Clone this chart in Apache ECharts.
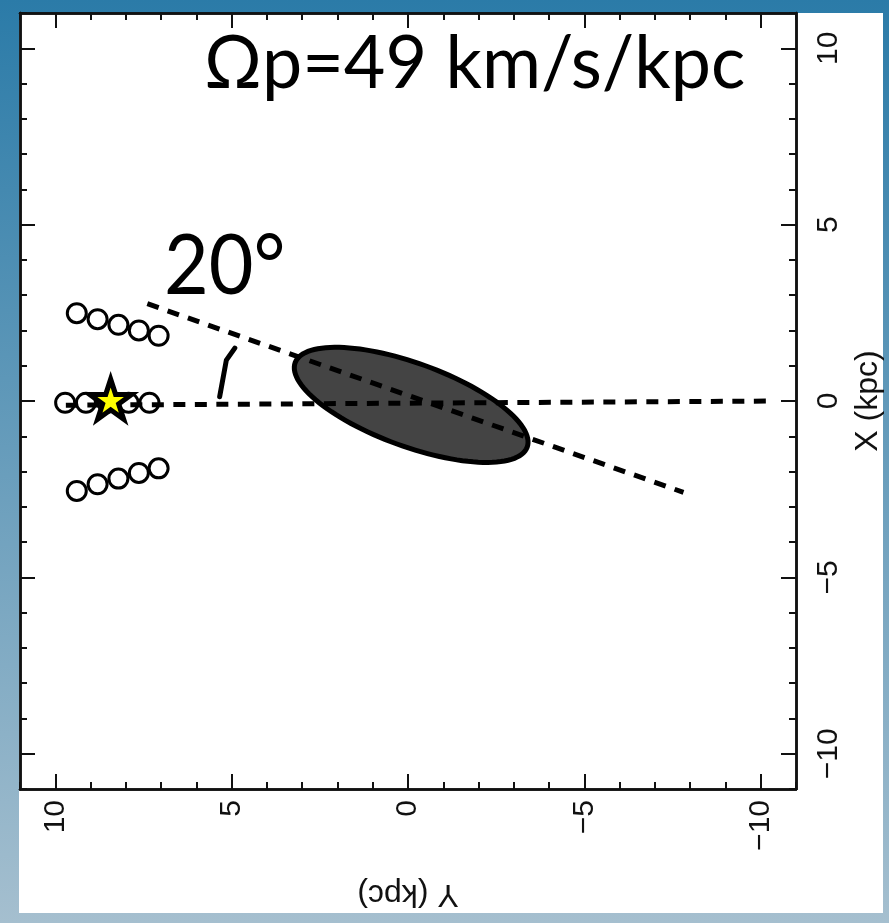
<!DOCTYPE html>
<html><head><meta charset="utf-8">
<script src="https://cdn.jsdelivr.net/npm/echarts@6/dist/echarts.min.js"></script>
<style>html,body{margin:0;padding:0;background:#fff}#c{width:889px;height:923px}</style>
</head><body><div id="c"></div>
<script>
// ---- data (kpc) ----
const majorTicks = [-10, -5, 0, 5, 10];
const minorTicks = [-11,-10,-9,-8,-7,-6,-5,-4,-3,-2,-1,0,1,2,3,4,5,6,7,8,9,10,11];
const circlesTop = [[9.39, 2.49], [8.80, 2.32], [8.21, 2.16], [7.63, 2.00], [7.07, 1.85]];
const circlesMid = [[9.72, -0.05], [9.13, -0.05], [8.52, -0.05], [7.92, -0.05], [7.33, -0.05]];
const circlesBot = [[9.39, -2.55], [8.80, -2.36], [8.21, -2.20], [7.63, -2.04], [7.07, -1.91]];
const sunPos = [[8.43, 0.05]];
const sunAxisLine = [[9.7, -0.12], [-10.4, 0.0]];
const barAxisLine = [[7.39, 2.76], [-7.81, -2.59]];
const angleArc = [[4.91, 1.50], [5.15, 1.16], [5.34, 0.12]];
const barCenter = [-0.09, -0.11];
const barSemiAxes = [3.5, 1.18];
const barAngleDeg = 20;
const titleText = 'Ωp=49 km/s/kpc';
const angleText = '20°';

// ---- chart ----
const LABEL_FONT = 'Liberation Sans';
const fmt = v => v < 0 ? '\u2212' + Math.abs(v) : String(v);
function mkAxis(isX, pos, ticks, len, extra) {
  const a = {
    type: 'value', min: -11, max: 11, interval: 1, position: pos, inverse: isX,
    splitLine: { show: false },
    axisLine: { show: true, onZero: false, lineStyle: { color: '#111', width: 2.5 } },
    axisTick: { show: true, inside: true, length: len, customValues: ticks, lineStyle: { color: '#111', width: 2 } },
    axisLabel: { show: false },
    axisPointer: { show: false }
  };
  return Object.assign(a, extra || {});
}
const labelStyle = (margin) => ({
  show: true, customValues: majorTicks, rotate: 90, margin: margin,
  formatter: fmt, color: '#111', fontSize: 30, fontFamily: LABEL_FONT
});

const chart = echarts.init(document.getElementById('c'), null, { renderer: 'canvas', width: 889, height: 923 });
const dashed = { color: '#000', width: 5, type: [12, 9.5], cap: 'butt', opacity: 1 };
chart.setOption({
  animation: false,
  backgroundColor: {
    type: 'linear', x: 0, y: 0, x2: 0, y2: 1,
    colorStops: [{ offset: 0, color: '#2b7ba8' }, { offset: 1, color: '#a5bfcf' }]
  },
  grid: { left: 20, top: 13, right: 93, bottom: 134, containLabel: false, outerBoundsMode: 'none' },
  xAxis: [
    mkAxis(true, 'bottom', majorTicks, 15, {
      axisLabel: labelStyle(11),
      name: 'Y (kpc)', nameLocation: 'middle', nameRotate: 180, nameGap: 89,
      nameTextStyle: { fontSize: 32, fontFamily: LABEL_FONT, color: '#111' }
    }),
    mkAxis(true, 'bottom', minorTicks, 7),
    mkAxis(true, 'top', majorTicks, 15),
    mkAxis(true, 'top', minorTicks, 7)
  ],
  yAxis: [
    mkAxis(false, 'right', majorTicks, 15, {
      axisLabel: labelStyle(18),
      name: 'X (kpc)', nameLocation: 'middle', nameRotate: 90, nameGap: 55,
      nameTextStyle: { fontSize: 32, fontFamily: LABEL_FONT, color: '#111' }
    }),
    mkAxis(false, 'right', minorTicks, 7),
    mkAxis(false, 'left', majorTicks, 15),
    mkAxis(false, 'left', minorTicks, 7)
  ],
  graphic: [
    { type: 'rect', shape: { x: 19, y: 13, width: 864, height: 900 }, style: { fill: '#ffffff' }, z: -10, silent: true },
    { type: 'text', x: 204, y: 64, scaleX: 0.97, z: 10, style: { text: titleText, fontSize: 74, fontFamily: 'Lato', fill: '#000', textAlign: 'left', textVerticalAlign: 'middle' } },
    { type: 'text', x: 164, y: 267, scaleX: 0.93, z: 10, style: { text: angleText, fontSize: 83, fontFamily: 'Lato', fill: '#000', textAlign: 'left', textVerticalAlign: 'middle' } }
  ],
  series: [
    {
      type: 'custom', name: 'Bar', silent: true, data: [barCenter],
      renderItem: function (params, api) {
        const cx = api.value(0), cy = api.value(1);
        const th = barAngleDeg * Math.PI / 180;
        const a = barSemiAxes[0], b = barSemiAxes[1];
        const pts = [];
        for (let i = 0; i < 120; i++) {
          const t = i / 120 * 2 * Math.PI;
          const h = cx + a * Math.cos(th) * Math.cos(t) - b * Math.sin(th) * Math.sin(t);
          const v = cy + a * Math.sin(th) * Math.cos(t) + b * Math.cos(th) * Math.sin(t);
          pts.push(api.coord([h, v]));
        }
        return { type: 'polygon', shape: { points: pts }, style: { fill: '#444444', stroke: '#000', lineWidth: 5 } };
      }
    },
    {
      type: 'scatter', name: 'Positions', silent: true,
      data: circlesTop.concat(circlesMid, circlesBot),
      symbol: 'circle', symbolSize: 19,
      itemStyle: { color: 'rgba(255,255,255,0)', borderColor: '#000', borderWidth: 3, opacity: 1 }
    },
    { type: 'line', name: 'Sun axis', silent: true, data: sunAxisLine, symbol: 'none', lineStyle: dashed },
    { type: 'line', name: 'Bar axis', silent: true, data: barAxisLine, symbol: 'none', lineStyle: dashed },
    { type: 'line', name: 'Angle', silent: true, data: angleArc, symbol: 'none', lineStyle: { color: '#000', width: 5, cap: 'round', join: 'round', opacity: 1 } },
    {
      type: 'scatter', name: 'Sun', silent: true, data: sunPos,
      symbol: 'path://M50,2 L60.78,35.16 L95.65,35.17 L67.44,55.67 L78.21,88.83 L50,68.34 L21.79,88.83 L32.56,55.67 L4.35,35.17 L39.22,35.16 Z',
      symbolSize: [42, 40],
      itemStyle: { color: '#ffff00', borderColor: '#000', borderWidth: 5, opacity: 1 }, z: 5
    }
  ]
});
</script></body></html>
